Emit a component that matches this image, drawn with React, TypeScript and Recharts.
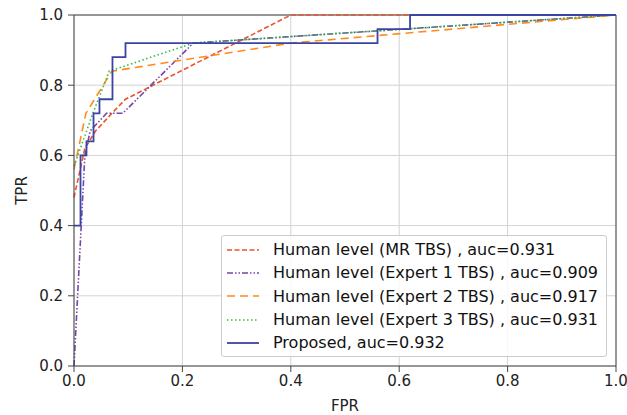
import React from "react";
import { LineChart, Line, XAxis, YAxis, CartesianGrid, ReferenceLine } from "recharts";

// ROC points
const mrFpr = [0, 0.02, 0.04, 0.07, 0.095, 0.4, 1];
const mrTpr = [0.48, 0.62, 0.67, 0.72, 0.76, 1, 1];

const exp1Fpr = [0, 0.02, 0.03, 0.06, 0.09, 0.22, 1];
const exp1Tpr = [0, 0.6, 0.67, 0.72, 0.72, 0.92, 1];

const exp2Fpr = [0, 0.022, 0.07, 0.4, 1];
const exp2Tpr = [0.56, 0.72, 0.84, 0.92, 1];

const exp3Fpr = [0, 0.035, 0.065, 0.22, 1];
const exp3Tpr = [0.57, 0.72, 0.84, 0.92, 1];

const propFpr = [0, 0.012, 0.012, 0.023, 0.023, 0.036, 0.036, 0.047, 0.047, 0.071, 0.071, 0.095, 0.095, 0.56, 0.56, 0.62, 0.62, 1];
const propTpr = [0.4, 0.4, 0.6, 0.6, 0.64, 0.64, 0.72, 0.72, 0.76, 0.76, 0.88, 0.88, 0.92, 0.92, 0.96, 0.96, 1, 1];

const ticks = [0, 0.2, 0.4, 0.6, 0.8, 1];

const toPoints = (fpr: number[], tpr: number[]) => fpr.map((f, i) => ({ fpr: f, tpr: tpr[i] }));

const series = [
  { name: "Human level (MR TBS) , auc=0.931", data: toPoints(mrFpr, mrTpr), color: "#e8542c", dash: "5 2.5", width: 1.6 },
  { name: "Human level (Expert 1 TBS) , auc=0.909", data: toPoints(exp1Fpr, exp1Tpr), color: "#7446a6", dash: "6 2 1.5 2 1.5 2", width: 1.6 },
  { name: "Human level (Expert 2 TBS) , auc=0.917", data: toPoints(exp2Fpr, exp2Tpr), color: "#ff8a1f", dash: "8 5", width: 1.6 },
  { name: "Human level (Expert 3 TBS) , auc=0.931", data: toPoints(exp3Fpr, exp3Tpr), color: "#2fbf3c", dash: "1.5 2.5", width: 1.6 },
  { name: "Proposed, auc=0.932", data: toPoints(propFpr, propTpr), color: "#3a44a4", dash: undefined, width: 1.8 },
];

const font = "'DejaVu Sans', sans-serif";

// matplotlib-style legend box, laid over the plot
function RocLegend() {
  return (
    <div
      style={{
        position: "absolute",
        left: 221,
        top: 235,
        width: 386,
        height: 122,
        border: "1px solid #cccccc",
        borderRadius: 3,
        background: "rgba(255,255,255,0.85)",
        fontFamily: font,
        fontSize: 16,
        color: "#111",
        paddingTop: 2,
        boxSizing: "border-box",
      }}
    >
      {series.map((s) => (
        <div key={s.name} style={{ display: "flex", alignItems: "center", height: 23.3 }}>
          <svg width={46} height={10} style={{ marginLeft: 5, flexShrink: 0 }}>
            <line x1={0} y1={5} x2={32} y2={5} stroke={s.color} strokeWidth={s.width} strokeDasharray={s.dash} />
          </svg>
          <span style={{ whiteSpace: "nowrap" }}>{s.name}</span>
        </div>
      ))}
    </div>
  );
}

export default function App() {
  return (
    <div style={{ position: "absolute", left: 0, top: 0, width: 627, height: 415, background: "#fff" }}>
      <LineChart width={627} height={415} margin={{ top: 15, right: 11, left: 0, bottom: 0 }}>
        <CartesianGrid stroke="#d3d3d3" strokeWidth={1} />
        <XAxis
          type="number"
          dataKey="fpr"
          domain={[0, 1]}
          ticks={ticks}
          tickFormatter={(v) => v.toFixed(1)}
          height={49}
          tickSize={6}
          tickMargin={3}
          stroke="#444"
          tick={{ fill: "#222", fontSize: 15, fontFamily: font }}
          label={{ value: "FPR", position: "insideBottom", offset: 4, fill: "#222", fontSize: 15, fontFamily: font }}
        />
        <YAxis
          type="number"
          dataKey="tpr"
          domain={[0, 1]}
          ticks={ticks}
          tickFormatter={(v) => v.toFixed(1)}
          width={74}
          tickSize={6}
          tickMargin={5}
          stroke="#444"
          tick={{ fill: "#222", fontSize: 15, fontFamily: font }}
          label={{ value: "TPR", angle: -90, position: "center", dx: -15, fill: "#222", fontSize: 15, fontFamily: font }}
        />
        <ReferenceLine y={1} stroke="#444" strokeWidth={1} />
        <ReferenceLine x={1} stroke="#444" strokeWidth={1} />
        {series.map((s) => (
          <Line
            key={s.name}
            data={s.data}
            dataKey="tpr"
            name={s.name}
            type="linear"
            stroke={s.color}
            strokeWidth={s.width}
            strokeDasharray={s.dash}
            dot={false}
            activeDot={false}
            isAnimationActive={false}
          />
        ))}
      </LineChart>
      <RocLegend />
    </div>
  );
}
